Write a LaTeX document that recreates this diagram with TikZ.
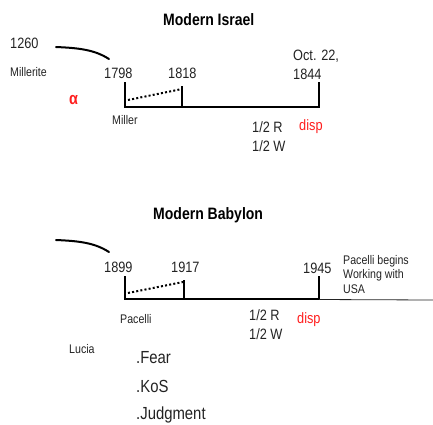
\documentclass[tikz,border=0pt]{standalone}
\usepackage{fontspec}
\setmainfont[FakeStretch=0.85]{Liberation Sans}
\definecolor{ink}{RGB}{35,35,35}
\definecolor{hot}{RGB}{255,30,30}
\begin{document}
\begin{tikzpicture}[x=1pt,y=-1pt,
  lbl/.style={anchor=base west,inner sep=0pt,text=ink,font=\fontsize{15}{15}\selectfont},
  sml/.style={anchor=base west,inner sep=0pt,text=ink,font=\fontsize{12.5}{12.5}\selectfont},
  ttl/.style={anchor=base west,inner sep=0pt,text=black,font=\fontsize{16.5}{16.5}\selectfont\bfseries},
  big/.style={anchor=base west,inner sep=0pt,text=ink,font=\fontsize{17.5}{17.5}\selectfont},
  redt/.style={anchor=base west,inner sep=0pt,text=hot,font=\fontsize{15}{15}\selectfont},
  tl/.style={line width=2pt,line cap=rect},
  dots/.style={line width=2pt,dash pattern=on 2pt off 2.2pt},
  swoosh/.style={line width=2pt,line cap=round}]
\useasboundingbox (0,0) rectangle (433,424);
% ---------- Modern Israel ----------
\node[ttl] (t1) at (163,25) {Modern Israel};
\node[lbl] (n1260) at (10,48) {1260};
\node[sml] (mlr) at (10,76) {Millerite};
\node[lbl] (n1798) at (104,78) {1798};
\node[lbl] (n1818) at (168,78) {1818};
\node[lbl] (oct) at (293,60) {Oct. 22,};
\node[lbl] (n1844) at (293,79) {1844};
\node[anchor=base west,inner sep=0pt,text=hot,font=\fontsize{17}{17}\selectfont\bfseries] (alpha) at (69,104) {α};
\node[sml] (miller) at (112,124) {Miller};
\node[lbl] (hr1) at (252,132) {1/2 R};
\node[lbl] (hw1) at (252,151) {1/2 W};
\node[redt] (disp1) at (299,130) {disp};
\coordinate (a1) at (56,47);
\coordinate (a2) at (109,59);
\draw[swoosh] (a1) .. controls (80,48) and (95,50) .. (a2);
\coordinate (p1) at (125,83);
\coordinate (p2) at (125,107);
\coordinate (p3) at (319,107);
\coordinate (p4) at (319,83);
\coordinate (q1) at (182,87);
\coordinate (q2) at (182,107);
\draw[tl] (p1) -- (p2) -- (p3) -- (p4);
\draw[tl] (q1) -- (q2);
\coordinate (d1) at (128,100);
\coordinate (d2) at (182,89);
\draw[dots] (d1) -- (d2);
% ---------- Modern Babylon ----------
\node[ttl] (t2) at (153,219) {Modern Babylon};
\node[lbl] (n1899) at (104,272) {1899};
\node[lbl] (n1917) at (171,272) {1917};
\node[lbl] (n1945) at (303,273) {1945};
\node[sml] (pb1) at (343,264) {Pacelli begins};
\node[sml] (pb2) at (343,278) {Working with};
\node[sml] (pb3) at (343,293) {USA};
\node[sml] (pac) at (120,323) {Pacelli};
\node[lbl] (hr2) at (249,320) {1/2 R};
\node[lbl] (hw2) at (249,339) {1/2 W};
\node[redt] (disp2) at (297,323) {disp};
\node[sml] (lucia) at (69,353) {Lucia};
\node[big] (fear) at (136,363) {.Fear};
\node[big] (kos) at (136,392) {.KoS};
\node[big] (judg) at (136,419) {.Judgment};
\coordinate (b1) at (56,240);
\coordinate (b2) at (109,252);
\draw[swoosh] (b1) .. controls (80,241) and (95,243) .. (b2);
\coordinate (r1) at (125,277);
\coordinate (r2) at (125,299);
\coordinate (r3) at (319,299);
\coordinate (r4) at (319,277);
\coordinate (s1) at (184,281);
\coordinate (s2) at (184,299);
\coordinate (e1) at (433,300);
\draw[tl] (r1) -- (r2) -- (r3) -- (r4);
\draw[tl] (s1) -- (s2);
\draw[line width=0.8pt,ink] (r3) ++(0,0.5) -- (e1);
\coordinate (f1) at (128,293);
\coordinate (f2) at (183,282);
\draw[dots] (f1) -- (f2);
\end{tikzpicture}
\end{document}
